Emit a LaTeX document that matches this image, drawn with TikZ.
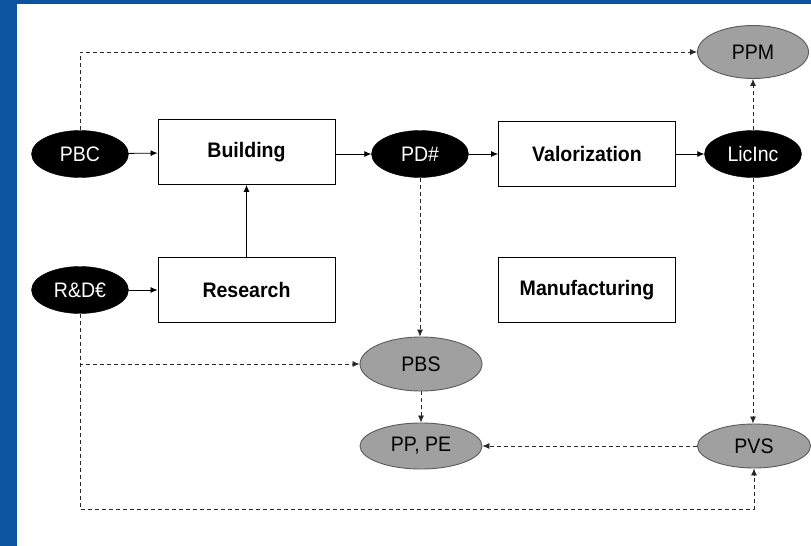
\documentclass[tikz,border=0pt]{standalone}
\usepackage{fontspec}
\setmainfont[FakeStretch=0.93]{Liberation Sans}
\usetikzlibrary{shapes.geometric,arrows.meta}
\definecolor{bgblue}{RGB}{12,84,160}
\definecolor{ellgray}{RGB}{160,160,160}
\definecolor{ellborder}{RGB}{90,90,90}
\definecolor{dashcol}{RGB}{40,40,40}
\begin{document}
\begin{tikzpicture}[x=1pt,y=-1pt,
  lbl/.style={font=\fontsize{21}{24}\selectfont},
  box/.style={lbl,draw,line width=0.9pt,minimum width=177pt,minimum height=65pt,inner sep=0pt,font=\fontsize{21}{24}\selectfont\bfseries},
  blk/.style={lbl,ellipse,fill=black,draw=black,text=white,minimum width=97pt,minimum height=47pt,inner sep=0pt},
  gry/.style={lbl,ellipse,fill=ellgray,draw=ellborder,line width=0.9pt,inner sep=0pt},
  sol/.style={-{Latex[length=7pt,width=6pt]},line width=0.8pt},
  dsh/.style={sol,draw=dashcol,dash pattern=on 4pt off 3pt}]
\useasboundingbox (0,0) rectangle (811,546);
\fill[bgblue] (0,0) rectangle (811,546);
\fill[white] (17,4) rectangle (811,546);
% nodes
\node[blk] (PBC) at (80,154) {PBC};
\node[box] (Building) at (246.5,152) {Building};
\node[blk] (PD) at (420,154) {PD\#};
\node[box] (Val) at (587,154) {Valorization};
\node[blk] (Lic) at (753,154) {LicInc};
\node[gry,minimum width=111pt,minimum height=53pt] (PPM) at (753,52) {PPM};
\node[blk] (RD) at (80,290) {R\&D€};
\node[box] (Research) at (246.5,290) {Research};
\node[box] (Manu) at (587,290) {Manufacturing};
\node[gry,minimum width=122pt,minimum height=54pt] (PBS) at (421,364) {PBS};
\node[gry,minimum width=122pt,minimum height=46pt] (PPPE) at (421,446) {PP, PE};
\node[gry,minimum width=113pt,minimum height=44pt] (PVS) at (754,446) {PVS};
\coordinate (bl) at (80,509);
% solid connectors
\draw[sol] (PBC) -- (Building);
\draw[sol] (Building.east |- PD) -- (PD);
\draw[sol] (PD) -- (Val);
\draw[sol] (Val) -- (Lic);
\draw[sol] (RD) -- (Research);
\draw[sol] (Research) -- (Building);
% dashed connectors
\draw[dsh] (PBC.north) |- (PPM.west);
\draw[dsh] (Lic.north) -- (PPM.south);
\draw[dsh] (Lic.south) -- (Lic.south |- PVS.north);
\draw[dsh] (PD.south) -- (PD.south |- PBS.north);
\draw[dsh] (PBS.south) -- (PPPE.north);
\draw[dsh] (PVS.west) -- (PPPE.east);
\draw[dsh] (RD.south) |- (PBS.west);
\draw[dsh] (RD.south) -- (bl) -| (PVS.south);
\end{tikzpicture}
\end{document}
